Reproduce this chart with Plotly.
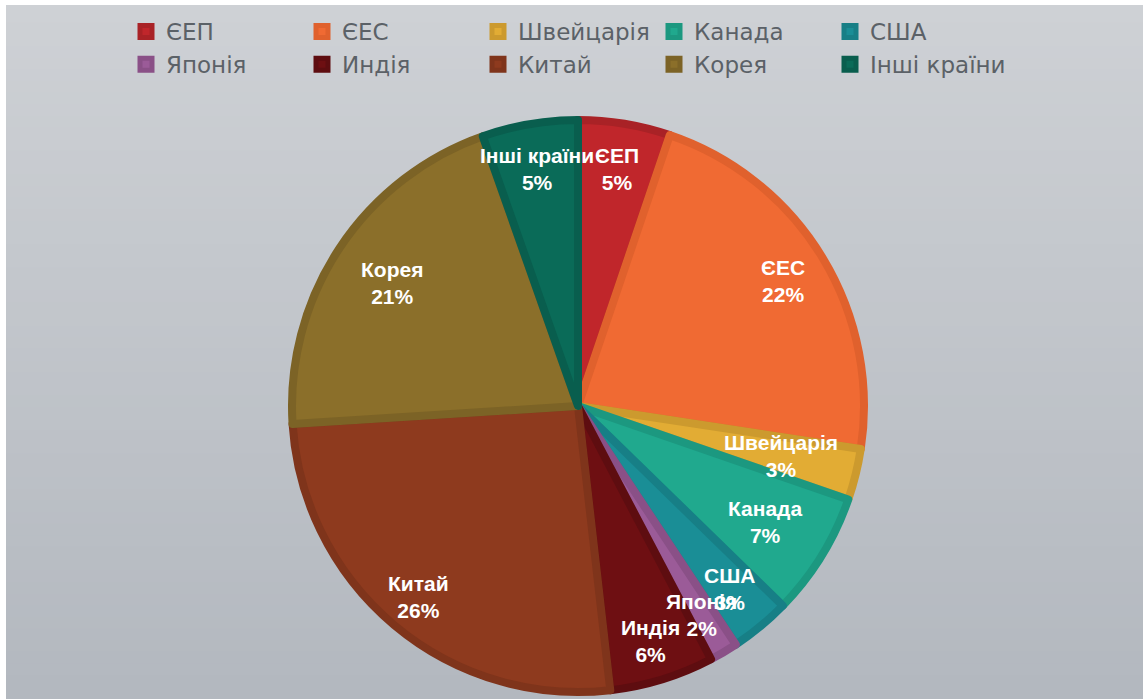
import math
import plotly.graph_objects as go

labels = ["ЄЕП", "ЄЕС", "Швейцарія", "Канада", "США", "Японія", "Индія", "Китай", "Корея", "Інші країни"]
values = [5.2, 22.2, 2.9, 7.0, 3.4, 1.6, 5.9, 25.8, 20.6, 5.4]
colors = ["#C0262B", "#F06A33", "#E2AC34", "#20A98E", "#1A8E96", "#9B5B98",
          "#6E0F12", "#8E3A1E", "#8B6F2A", "#0A6B58"]
edge_colors = ["#A92226", "#E0612D", "#CC9A2E", "#1C9880", "#177F86", "#8A5087",
               "#5E0D10", "#7F341B", "#7C6326", "#095E4E"]
# radial position of each data label (fraction of the radius), styling only
label_r = [0.84, 0.84, 0.73, 0.77, 0.83, 0.85, 0.86, 0.87, 0.78, 0.84]

W, H = 1143, 699
ML, MR = 120, 120
PW = W - ML - MR
cx, cy, r = 578, 406, 286


def fx(px):
    return (px - ML) / PW


def fy(py):
    return 1 - py / H


fig = go.Figure()

# background gradient bands
n = 60
top = (0xCE, 0xD1, 0xD5)
bot = (0xB3, 0xB8, 0xBF)
shapes = []
for i in range(n):
    t = i / (n - 1)
    c = tuple(round(top[k] + (bot[k] - top[k]) * t) for k in range(3))
    y1 = 1 - i / n
    y0 = 1 - (i + 1) / n
    shapes.append(dict(type="rect", xref="paper", yref="paper", x0=fx(-5), x1=fx(W + 5),
                       y0=y0 - 0.001, y1=y1 + 0.001, line=dict(width=0),
                       fillcolor="rgb(%d,%d,%d)" % c, layer="below"))
shapes.append(dict(type="rect", xref="paper", yref="paper", x0=fx(-5), x1=fx(W + 5),
                   y0=fy(5), y1=1.01, line=dict(width=0), fillcolor="white", layer="below"))
shapes.append(dict(type="rect", xref="paper", yref="paper", x0=fx(-5), x1=fx(6),
                   y0=-0.01, y1=1.01, line=dict(width=0), fillcolor="white", layer="below"))

fig.add_trace(go.Pie(
    labels=labels,
    values=values,
    sort=False,
    direction="clockwise",
    rotation=0,
    marker=dict(colors=colors, line=dict(color=edge_colors, width=8)),
    textinfo="none",
    hoverinfo="label+percent",
    domain=dict(x=[fx(cx - r), fx(cx + r)], y=[fy(cy + r), fy(cy - r)]),
))

# data labels placed at each slice's mid-angle (derived from the values)
total = sum(values)
annotations = []
cum = 0.0
for lab, v, rho in zip(labels, values, label_r):
    ang = 2 * math.pi * (cum + v / 2) / total
    cum += v
    px = cx + rho * r * math.sin(ang)
    py = cy - rho * r * math.cos(ang)
    pct = round(100 * v / total)
    annotations.append(dict(
        x=fx(px), y=fy(py), xref="paper", yref="paper",
        text="<b>%s<br>%d%%</b>" % (lab, pct), showarrow=False,
        font=dict(color="white", size=21, family="Liberation Sans, Arial"),
        align="center", xanchor="center", yanchor="middle",
    ))

fig.update_layout(
    width=W, height=H,
    margin=dict(l=ML, r=MR, t=0, b=0),
    paper_bgcolor="#C4C8CD",
    plot_bgcolor="rgba(0,0,0,0)",
    shapes=shapes,
    annotations=annotations,
    showlegend=True,
    legend=dict(
        orientation="h",
        x=fx(126), y=fy(10), xanchor="left", yanchor="top",
        entrywidth=131, entrywidthmode="pixels",
        font=dict(size=23, color="#5B6167", family="DejaVu Sans, sans-serif"),
        bgcolor="rgba(0,0,0,0)",
        tracegroupgap=0,
    ),
)

fig.write_html("out.html", config={"displayModeBar": False},
               post_script="document.body.style.margin='0';")
